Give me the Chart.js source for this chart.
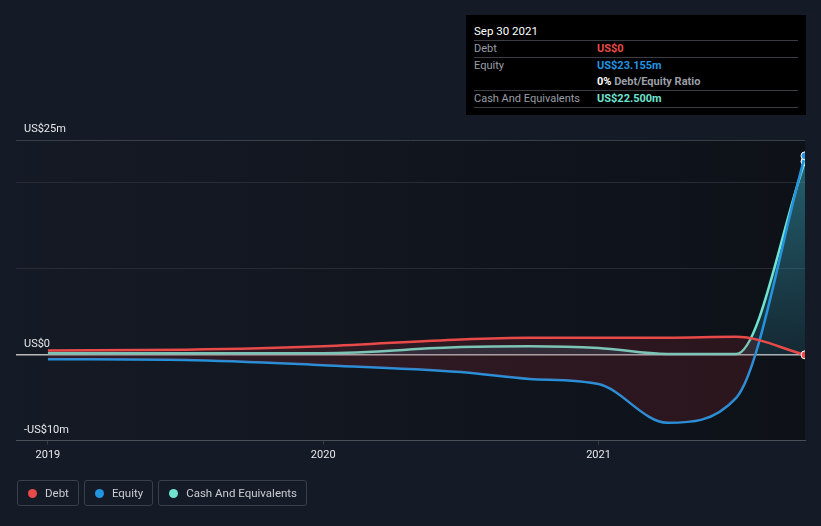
<!DOCTYPE html>
<html>
<head>
<meta charset="utf-8">
<script src="https://cdn.jsdelivr.net/npm/chart.js@4"></script>
<style>
  html, body { margin: 0; padding: 0; background: #151b26; }
  body { width: 821px; height: 526px; position: relative; overflow: hidden; font-family: Roboto, "Open Sans", sans-serif; }
  #wrap { position: absolute; left: 0; top: 0; width: 821px; height: 526px; }
  #tip { position: absolute; left: 466px; top: 15px; width: 340px; height: 100px; background: #000; box-sizing: border-box; padding: 8px 8px 0 8px; font-size: 11px; color: #9a9ea6; }
  #tip .head { color: #fff; font-size: 11.5px; height: 17px; line-height: 16px; border-bottom: 1px solid #3a3d44; }
  #tip .row { height: 16px; line-height: 16px; border-bottom: 1px solid #3a3d44; position: relative; }
  #tip .row.nob { border-bottom: none; }
  #tip .lab { position: absolute; left: 0; }
  #tip .val { position: absolute; left: 123px; font-weight: bold; }
  #legend { position: absolute; left: 17px; top: 480px; display: flex; }
  .lg { height: 26px; border: 1px solid #3a3f4a; border-radius: 3px; box-sizing: border-box; margin-right: 5px; display: flex; align-items: center; padding: 0 9px 0 10px; color: #c9ccd2; font-size: 11.5px; }
  .lg i { width: 9px; height: 9px; border-radius: 50%; display: inline-block; margin-right: 8px; }
</style>
</head>
<body>
<div id="wrap"><canvas id="c" width="821" height="526"></canvas></div>
<div id="tip">
  <div class="head">Sep 30 2021</div>
  <div class="row"><span class="lab">Debt</span><span class="val" style="color:#e84a4a">US$0</span></div>
  <div class="row nob"><span class="lab">Equity</span><span class="val" style="color:#2394e0">US$23.155m</span></div>
  <div class="row"><span class="val" style="color:#fff">0% <span style="color:#9a9ea6">Debt/Equity Ratio</span></span></div>
  <div class="row"><span class="lab">Cash And Equivalents</span><span class="val" style="color:#6fe3cf">US$22.500m</span></div>
</div>
<div id="legend"></div>
<script>
  'use strict';

  // dates as decimal years
  var dates = [2019.0, 2019.5, 2020.0, 2020.5, 2020.75, 2021.0, 2021.25, 2021.5, 2021.75];
  var debt = [0.5, 0.6, 1.0, 1.8, 2.0, 2.0, 2.0, 2.1, 0];
  var equity = [-0.5, -0.6, -1.2, -2.0, -2.8, -3.4, -7.9, -5.0, 23.155];
  var cash = [0.2, 0.2, 0.2, 0.9, 1.0, 0.8, 0.1, 0.1, 22.5];
  var xTicks = [2019, 2020, 2021];
  var yTicks = [25, 0, -10];
  var yTickLabels = ['US$25m', 'US$0', '-US$10m'];
  var gridValues = [-10, 0, 10, 20, 25];

  var names = ['Debt', 'Equity', 'Cash And Equivalents'];
  var colors = ['#e84a4a', '#2394e0', '#6fe3cf'];

  // legend
  var lg = document.getElementById('legend');
  names.forEach(function (n, i) {
    var d = document.createElement('div');
    d.className = 'lg';
    d.innerHTML = '<i style="background:' + colors[i] + '"></i>' + n;
    lg.appendChild(d);
  });

  function pts(arr) {
    return arr.map(function (v, i) { return { x: dates[i], y: v }; });
  }

  function lastRadius(ctx) {
    return ctx.dataIndex === dates.length - 1 ? 4 : 0;
  }

  // фон и затемнение области графика
  var bgPlugin = {
    id: 'bg',
    beforeDraw: function (chart) {
      var c = chart.ctx, a = chart.chartArea;
      c.save();
      c.fillStyle = '#151b26';
      c.fillRect(0, 0, chart.width, chart.height);
      var g = c.createLinearGradient(a.left, 0, a.right, 0);
      g.addColorStop(0, 'rgba(8,10,14,0.05)');
      g.addColorStop(1, 'rgba(8,10,14,0.6)');
      c.fillStyle = g;
      c.fillRect(a.left, a.top, a.right - a.left, a.bottom - a.top);
      c.restore();
    },
    afterDraw: function (chart) {
      var c = chart.ctx, y = chart.scales.y;
      c.save();
      c.fillStyle = '#e6e8eb';
      c.font = '11px Roboto';
      c.textBaseline = 'bottom';
      yTicks.forEach(function (v, i) {
        c.fillText(yTickLabels[i], 24, y.getPixelForValue(v) - 5);
      });
      c.restore();
    }
  };

  new Chart(document.getElementById('c'), {
    type: 'line',
    data: {
      datasets: [
        {
          label: names[0],
          data: pts(debt),
          borderColor: colors[0],
          backgroundColor: colors[0],
          borderWidth: 2.5,
          fill: { target: 1, above: 'rgba(190,45,60,0.17)', below: 'rgba(0,0,0,0)' },
          pointRadius: lastRadius,
          pointBorderColor: '#fff',
          pointBorderWidth: 1
        },
        {
          label: names[1],
          data: pts(equity),
          borderColor: colors[1],
          backgroundColor: colors[1],
          borderWidth: 2.5,
          fill: false,
          pointRadius: lastRadius,
          pointBorderColor: '#fff',
          pointBorderWidth: 1
        },
        {
          label: names[2],
          data: pts(cash),
          borderColor: colors[2],
          borderWidth: 2.5,
          fill: 'origin',
          backgroundColor: function (ctx) {
            var a = ctx.chart.chartArea;
            if (!a) return 'rgba(60,170,190,0.3)';
            var g = ctx.chart.ctx.createLinearGradient(0, a.top, 0, ctx.chart.scales.y.getPixelForValue(0));
            g.addColorStop(0, 'rgba(60,175,195,0.55)');
            g.addColorStop(1, 'rgba(50,150,175,0.18)');
            return g;
          },
          pointRadius: lastRadius,
          pointBackgroundColor: colors[2],
          pointBorderColor: '#fff',
          pointBorderWidth: 1
        }
      ]
    },
    options: {
      responsive: false,
      animation: false,
      layout: { padding: { left: 16, right: 16, top: 140, bottom: 60 } },
      elements: { line: { cubicInterpolationMode: 'monotone' } },
      plugins: { legend: { display: false }, tooltip: { enabled: false } },
      scales: {
        x: {
          type: 'linear',
          min: 2018.884,
          max: 2021.75,
          afterBuildTicks: function (s) { s.ticks = xTicks.map(function (v) { return { value: v }; }); },
          ticks: { color: '#e6e8eb', font: { family: 'Roboto', size: 11 }, padding: 4, maxRotation: 0,
            callback: function (v) { return String(v); } },
          grid: { drawOnChartArea: false, drawTicks: true, tickLength: 4, tickColor: '#55596280' },
          border: { display: true, color: '#4a4f58', width: 1 }
        },
        y: {
          min: -10,
          max: 25,
          afterBuildTicks: function (s) { s.ticks = gridValues.map(function (v) { return { value: v }; }); },
          ticks: { display: false },
          grid: {
            drawTicks: false,
            color: function (ctx) {
              if (ctx.tick && ctx.tick.value === 0) return '#b8b8b8';
              if (ctx.tick && ctx.tick.value === 25) return '#3a3e46';
              return '#262b34';
            },
            lineWidth: function (ctx) { return ctx.tick && ctx.tick.value === 0 ? 1.5 : 1; }
          },
          border: { display: false }
        }
      }
    },
    plugins: [bgPlugin]
  });
</script>
</body>
</html>
